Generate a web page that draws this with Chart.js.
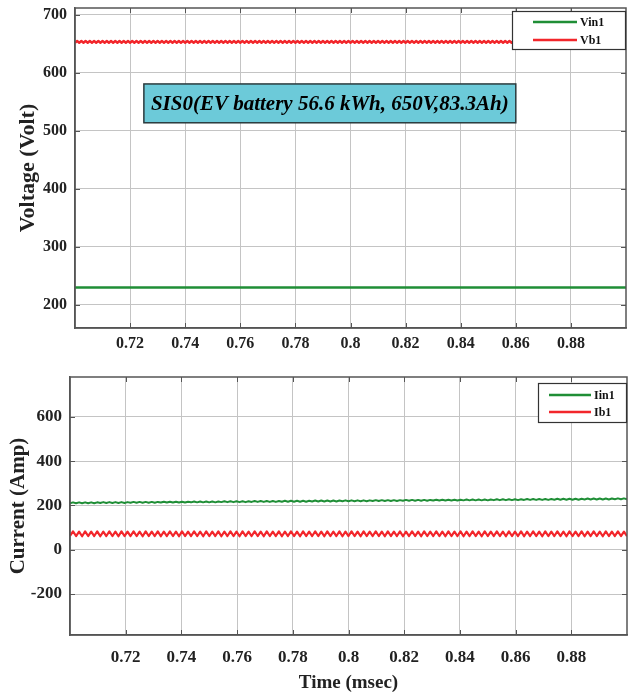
<!DOCTYPE html>
<html>
<head>
<meta charset="utf-8">
<script src="https://cdn.jsdelivr.net/npm/chart.js@4.4.1/dist/chart.umd.min.js"></script>
<style>
  html, body { margin: 0; padding: 0; background: #fff; }
  #wrap { position: relative; width: 628px; height: 697px; }
  #voltChart { position: absolute; left: 0; top: 0; }
  #currChart { position: absolute; left: 0; top: 358px; }
</style>
</head>
<body>
<div id="wrap">
  <canvas id="voltChart" width="628" height="358"></canvas>
  <canvas id="currChart" width="628" height="339"></canvas>
</div>
<script>
// time window of both traces (msec)
const T_START = 0.70;
const T_END = 0.90;
const timeTicks = [0.72, 0.74, 0.76, 0.78, 0.8, 0.82, 0.84, 0.86, 0.88];
const voltTicks = [200, 300, 400, 500, 600, 700];
const currTicks = [-200, 0, 200, 400, 600];

// input voltage (V)
const vin1 = [230, 230, 230];

// battery voltage (V), small switching ripple
const vb1 = [
  652,655,652,655,652,655,652,655,652,655,652,655,652,655,652,655,652,655,652,655,
  652,655,652,655,652,655,652,655,652,655,652,655,652,655,652,655,652,655,652,655,
  652,655,652,655,652,655,652,655,652,655,652,655,652,655,652,655,652,655,652,655,
  652,655,652,655,652,655,652,655,652,655,652,655,652,655,652,655,652,655,652,655,
  652,655,652,655,652,655,652,655,652,655,652,655,652,655,652,655,652,655,652,655,
  652,655,652,655,652,655,652,655,652,655,652,655,652,655,652,655,652,655,652,655,
  652,655,652,655,652,655,652,655,652,655,652,655,652,655,652,655,652,655,652,655,
  652,655,652,655,652,655,652,655,652,655,652,655,652,655,652,655,652,655,652,655,
  652,655,652,655,652,655,652,655,652,655,652,655,652,655,652,655,652,655,652,655,
  652,655,652,655,652,655,652,655,652,655,652,655,652,655,652,655,652,655,652,655,
  652,655,652,655,652,655,652,655,652,655,652,655,652,655,652,655,652,655,652,655,
  652,655,652,655,652,655,652,655,652,655,652,655,652,655,652,655,652,655,652,655,
  652,655,652,655,652,655,652,655,652,655,652,655,652,655,652,655,652,655,652,655,
  652
];

// input current (A), slowly rising
const iin1 = [
  210,214,210,214,210,214,210,214,210,214,211,215,211,215,211,215,211,215,211,215,
  212,216,212,216,212,216,212,216,212,216,213,217,213,217,213,217,213,217,213,217,
  214,218,214,218,214,218,214,218,214,218,215,219,215,219,215,219,215,219,215,219,
  216,220,216,220,216,220,216,220,216,220,217,221,217,221,217,221,217,221,217,221,
  218,222,218,222,218,222,218,222,218,222,219,223,219,223,219,223,219,223,219,223,
  220,224,220,224,220,224,220,224,220,224,221,225,221,225,221,225,221,225,221,225,
  222,226,222,226,222,226,222,226,222,226,223,227,223,227,223,227,223,227,223,227,
  224,228,224,228,224,228,224,228,224,228,225,229,225,229,225,229,225,229,225,229,
  226,230,226,230,226,230,226,230,226,230,227,231,227,231,227,231,227,231,227,231,
  228,232,228,232,228
];

// battery current (A)
const ib1 = [
  62,83,62,82,61,83,62,82,62,83,61,82,62,83,62,82,61,83,62,82,
  62,83,62,82,61,83,62,82,62,83,61,82,62,83,62,82,61,83,62,82,
  62,83,62,82,61,83,62,82,62,83,61,82,62,83,62,82,61,83,62,82,
  62,83,62,82,61,83,62,82,62,83,61,82,62,83,62,82,61,83,62,82,
  62,83,62,82,61,83,62,82,62,83,61,82,62,83,62,82,61,83,62,82,
  62,83,62,82,61,83,62,82,62,83,61,82,62,83,62,82,61,83,62,82,
  62,83,62,82,61,83,62,82,62,83,61,82,62,83,62,82,61,83,62,82,
  62,83,62,82,61,83,62,82,62,83,61,82,62,83,62,82,61,83,62,82,
  62,83,62,82,61,83,62,82,62,83,61,82,62,83,62,82,61,83,62,82,
  62,83,62,82,61
];

const GREEN = "#1f8e36";
const RED = "#f2262b";
const FONT = "'Liberation Serif', 'Times New Roman', serif";

// spread samples evenly over the time window
function toPoints(values) {
    const step = (T_END - T_START) / (values.length - 1);
    return values.map((v, i) => ({ x: T_START + i * step, y: v }));
}

// legend box drawn inside the plot area, top right corner
const boxLegend = {
    id: "boxLegend",
    afterDraw(chart, args, opts) {
        const ctx = chart.ctx;
        const area = chart.chartArea;
        const x = area.right - opts.width;
        const y = area.top + opts.top;
        ctx.save();
        ctx.fillStyle = "#fff";
        ctx.fillRect(x, y, opts.width, opts.height);
        ctx.strokeStyle = "#333";
        ctx.lineWidth = 1.2;
        ctx.strokeRect(x + 0.5, y + 0.5, opts.width - 1, opts.height - 1);
        ctx.font = "bold 12px " + FONT;
        ctx.textBaseline = "middle";
        chart.data.datasets.forEach((ds, i) => {
            const ly = y + opts.rowTop + i * opts.rowGap;
            ctx.strokeStyle = ds.borderColor;
            ctx.lineWidth = 2.5;
            ctx.beginPath();
            ctx.moveTo(x + opts.lineX, ly);
            ctx.lineTo(x + opts.lineX + opts.lineLen, ly);
            ctx.stroke();
            ctx.fillStyle = "#111";
            ctx.fillText(ds.label, x + opts.lineX + opts.lineLen + 3, ly + 1);
        });
        ctx.restore();
    }
};

// closed frame with short inward tick marks
const frameTicks = {
    id: "frameTicks",
    afterDatasetsDraw(chart) {
        const ctx = chart.ctx;
        const a = chart.chartArea;
        const xs = chart.scales.x, ys = chart.scales.y;
        ctx.save();
        ctx.strokeStyle = "#555";
        ctx.lineWidth = 1;
        ctx.beginPath();
        xs.ticks.forEach(t => {
            const px = Math.round(xs.getPixelForValue(t.value)) + 0.5;
            ctx.moveTo(px, a.bottom); ctx.lineTo(px, a.bottom - 5);
            ctx.moveTo(px, a.top); ctx.lineTo(px, a.top + 5);
        });
        ys.ticks.forEach(t => {
            const py = Math.round(ys.getPixelForValue(t.value)) + 0.5;
            ctx.moveTo(a.left, py); ctx.lineTo(a.left + 5, py);
            ctx.moveTo(a.right, py); ctx.lineTo(a.right - 5, py);
        });
        ctx.stroke();
        ctx.lineWidth = 1.5;
        ctx.strokeRect(a.left, a.top, a.right - a.left, a.bottom - a.top);
        ctx.restore();
    }
};

// caption box on the voltage plot, placed in data units
const captionBox = {
    id: "captionBox",
    afterDraw(chart, args, opts) {
        const ctx = chart.ctx;
        const xs = chart.scales.x, ys = chart.scales.y;
        const x0 = xs.getPixelForValue(opts.x0), x1 = xs.getPixelForValue(opts.x1);
        const y0 = ys.getPixelForValue(opts.y0), y1 = ys.getPixelForValue(opts.y1);
        ctx.save();
        ctx.fillStyle = "#6ccad9";
        ctx.fillRect(x0, y0, x1 - x0, y1 - y0);
        ctx.strokeStyle = "#2b3a3d";
        ctx.lineWidth = 1.5;
        ctx.strokeRect(x0, y0, x1 - x0, y1 - y0);
        ctx.fillStyle = "#000";
        ctx.font = "italic bold 21px " + FONT;
        ctx.textAlign = "center";
        ctx.textBaseline = "middle";
        ctx.fillText(opts.text, (x0 + x1) / 2, (y0 + y1) / 2 + 1);
        ctx.restore();
    }
};

function axisX(tickPad, title, fontSize) {
    return {
        type: "linear",
        min: T_START,
        max: T_END,
        afterBuildTicks: s => { s.ticks = timeTicks.map(v => ({ value: v })); },
        afterFit: s => {
            s.height = title ? 62 : 30;
            s.paddingLeft = 0;
            s.paddingRight = 0;
        },
        grid: { color: "#c4c4c4", lineWidth: 1, drawTicks: false },
        border: { color: "#555", width: 1.5 },
        ticks: {
            padding: tickPad,
            color: "#222",
            font: { family: FONT, weight: "bold", size: fontSize },
            callback: v => String(v)
        },
        title: title ? {
            display: true,
            text: title,
            color: "#222",
            font: { family: FONT, weight: "bold", size: 19 },
            padding: { top: 0, bottom: 3 }
        } : { display: false }
    };
}

function axisY(min, max, tickVals, width, title, titleSize, titlePad, fontSize) {
    return {
        type: "linear",
        min: min,
        max: max,
        afterBuildTicks: s => { s.ticks = tickVals.map(v => ({ value: v })); },
        afterFit: s => {
            s.width = width;
            s.paddingTop = 0;
            s.paddingBottom = 0;
        },
        grid: { color: "#c4c4c4", lineWidth: 1, drawTicks: false },
        border: { color: "#555", width: 1.5 },
        ticks: {
            padding: 8,
            color: "#222",
            font: { family: FONT, weight: "bold", size: fontSize }
        },
        title: {
            display: true,
            text: title,
            color: "#222",
            font: { family: FONT, weight: "bold", size: titleSize },
            padding: { top: titlePad, bottom: 0 }
        }
    };
}

const lineStyle = { fill: false, pointRadius: 0, tension: 0, borderJoinStyle: "round" };

new Chart(document.getElementById("voltChart"), {
    type: "line",
    data: {
        datasets: [
            { label: "Vin1", data: toPoints(vin1), borderColor: GREEN, borderWidth: 2.5, ...lineStyle },
            { label: "Vb1", data: toPoints(vb1), borderColor: RED, borderWidth: 2.4, ...lineStyle }
        ]
    },
    options: {
        responsive: false,
        animation: false,
        layout: { padding: { top: 8, right: 2, left: 0, bottom: 0 } },
        scales: {
            x: axisX(6, null, 16),
            y: axisY(160, 712, voltTicks, 75, "Voltage (Volt)", 22, 15, 16)
        },
        plugins: {
            legend: { display: false },
            tooltip: { enabled: false },
            boxLegend: { width: 114, height: 39, top: 3, lineX: 21, lineLen: 44, rowTop: 11, rowGap: 18 },
            captionBox: { x0: 0.725, x1: 0.86, y0: 581, y1: 514, text: "SIS0(EV battery 56.6 kWh, 650V,83.3Ah)" }
        }
    },
    plugins: [frameTicks, boxLegend, captionBox]
});

new Chart(document.getElementById("currChart"), {
    type: "line",
    data: {
        datasets: [
            { label: "Iin1", data: toPoints(iin1), borderColor: GREEN, borderWidth: 2, ...lineStyle },
            { label: "Ib1", data: toPoints(ib1), borderColor: RED, borderWidth: 2.2, ...lineStyle }
        ]
    },
    options: {
        responsive: false,
        animation: false,
        layout: { padding: { top: 19, right: 1, left: 0, bottom: 0 } },
        scales: {
            x: axisX(12, "Time (msec)", 17),
            y: axisY(-385, 780, currTicks, 70, "Current (Amp)", 21, 6, 17)
        },
        plugins: {
            legend: { display: false },
            tooltip: { enabled: false },
            boxLegend: { width: 89, height: 40, top: 6, lineX: 11, lineLen: 42, rowTop: 12, rowGap: 17 }
        }
    },
    plugins: [frameTicks, boxLegend]
});
</script>
</body>
</html>
